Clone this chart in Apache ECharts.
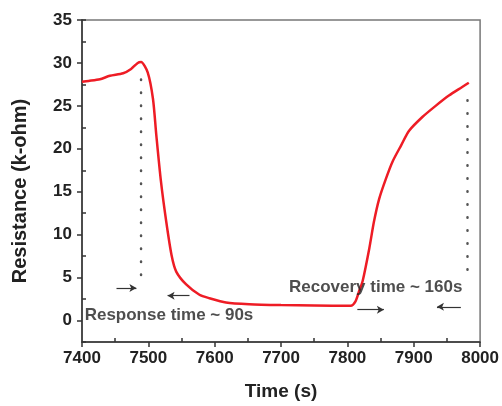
<!DOCTYPE html>
<html>
<head>
<meta charset="utf-8">
<script src="https://cdn.jsdelivr.net/npm/echarts@6/dist/echarts.min.js"></script>
<style>html,body{margin:0;padding:0;background:#fff}#c{width:502px;height:406px}</style>
</head>
<body>
<div id="c"></div>
<script>
// ---- data ----
var timeS = [7400,7410,7427,7442,7462,7474,7484,7489,7499,7507,7512,7519,7527,7535,7542,7557,7577,7592,7617,7652,7700,7750,7805,7812,7818,7823,7833,7840,7848,7858,7868,7881,7893,7913,7933,7953,7973,7983];
var resistance = [27.8,27.9,28.1,28.5,28.8,29.3,30.0,30.1,28.9,25.8,21.6,16.2,11.5,7.6,5.7,4.2,3.0,2.6,2.1,1.9,1.8,1.75,1.72,2.2,3.5,4.6,8.4,11.5,14.2,16.5,18.5,20.4,22.1,23.7,25.0,26.2,27.2,27.7];
var markerTimes = [7489, 7981];
var markerTop = [29.5, 27.0];
var markerBottom = [5.3, 5.9];
var arrowFrom = [[7452,3.8],[7562,2.9],[7815,1.27],[7971,1.6]];
var arrowTo = [[7482,3.8],[7529,2.9],[7855,1.27],[7935,1.6]];
var annoText = ['Response time ~ 90s', 'Recovery time ~ 160s'];
var annoAt = [[7404,0.55],[7712,3.9]];
var xRange = [7400, 8000];
var xStep = 100;
var yMajor = [0,5,10,15,20,25,30,35];
var yRange = [-2.5, 35];
var yMinorStep = 5;

var FONT = '"Liberation Sans", Arial, sans-serif';
var chart = echarts.init(document.getElementById('c'), null, {renderer:'canvas'});

var curve = timeS.map(function(t,i){return [t, resistance[i]];});
var dotSeries = markerTimes.map(function(t,i){
  return {
    type:'line', xAxisIndex:0, yAxisIndex:0, symbol:'none', silent:true,
    data:[[t, markerBottom[i]],[t, markerTop[i]]],
    lineStyle:{color:'#555', width:2.5, type:[0.5,12.5], cap:'round'}, z:3
  };
});
var arrowData = arrowFrom.map(function(f,i){
  return [{coord:f},{coord:arrowTo[i]}];
});
function plain(v){ return String(v); }
var TICK = {color:'#333', width:1.5};

chart.setOption({
  animation:false,
  backgroundColor:'#fff',
  grid:{left:82, right:21, top:20, bottom:61, show:true, borderColor:'#777', borderWidth:1.5},
  xAxis:[{
    type:'value', min:xRange[0], max:xRange[1], interval:xStep,
    name:'Time (s)', nameLocation:'middle', nameGap:40,
    nameTextStyle:{fontFamily:FONT, fontWeight:'bold', fontSize:19, color:'#222'},
    axisLine:{show:true, onZero:false, lineStyle:{color:'#333', width:1.5}},
    axisTick:{show:true, inside:false, length:5, lineStyle:TICK},
    axisLabel:{show:true, margin:8, formatter:plain, fontFamily:FONT, fontWeight:'bold', fontSize:17, color:'#222'},
    splitLine:{show:false}
  },{
    type:'value', min:xRange[0], max:xRange[1], interval:xStep, position:'bottom',
    axisLine:{show:false, onZero:false},
    axisTick:{show:true, inside:true, length:0, lineStyle:TICK},
    minorTick:{show:true, splitNumber:2, length:4, lineStyle:TICK},
    axisLabel:{show:true, inside:true, fontSize:8, color:'rgba(0,0,0,0)'},
    splitLine:{show:false}
  }],
  yAxis:[{
    type:'value', min:yRange[0], max:yRange[1], interval:2.5,
    name:'Resistance (k-ohm)', nameLocation:'middle', nameGap:52,
    nameTextStyle:{fontFamily:FONT, fontWeight:'bold', fontSize:20, color:'#222', padding:[0,20,0,0]},
    axisLine:{show:true, onZero:false, lineStyle:{color:'#333', width:1.5}},
    axisTick:{show:true, inside:false, length:5, customValues:yMajor, lineStyle:TICK},
    axisLabel:{show:true, margin:10, customValues:yMajor, formatter:plain, fontFamily:FONT, fontWeight:'bold', fontSize:17, color:'#222'},
    splitLine:{show:false}
  },{
    type:'value', min:yRange[0], max:yRange[1], interval:yMinorStep, position:'left',
    axisLine:{show:false, onZero:false},
    axisTick:{show:true, inside:true, length:4, lineStyle:TICK},
    axisLabel:{show:true, inside:true, fontSize:8, color:'rgba(0,0,0,0)'},
    splitLine:{show:false}
  }],
  series:[{
    type:'line', xAxisIndex:0, yAxisIndex:0, data:curve, symbol:'none', smooth:0.25,
    lineStyle:{color:'#ee1c25', width:2.5}, z:4,
    markLine:{
      silent:true, symbol:['none','arrow'], symbolSize:[6,7],
      label:{show:false},
      lineStyle:{color:'#333', width:1.2, type:'solid'},
      data:arrowData
    }
  }].concat(dotSeries).concat([{
    type:'scatter', xAxisIndex:0, yAxisIndex:0, symbolSize:0, silent:true,
    data:annoAt.map(function(p,i){return {value:p, name:annoText[i]};}),
    label:{show:true, position:'right', distance:0, formatter:'{b}',
      fontFamily:FONT, fontWeight:'bold', fontSize:17, color:'#222'},
    z:5
  }])
});
</script>
</body>
</html>
